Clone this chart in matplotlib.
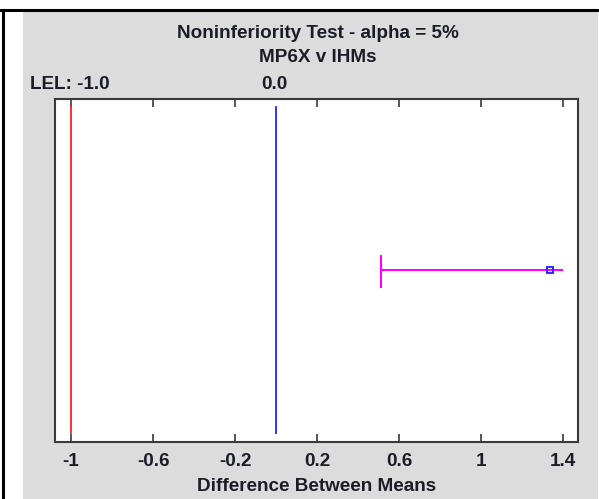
import matplotlib.pyplot as plt
from matplotlib.lines import Line2D
from matplotlib.patches import Rectangle

# values
lel = -1.0
ref = 0.0
ciLow = 0.51
estimate = 1.335
ciHigh = 1.395
xTicks = [-1, -0.6, -0.2, 0.2, 0.6, 1, 1.4]
xTickLabels = ['-1', '-0.6', '-0.2', '0.2', '0.6', '1', '1.4']

textColor = '#1c1c28'
fs = 13.6
plt.rcParams['font.family'] = ['Liberation Sans', 'DejaVu Sans']
plt.rcParams['font.weight'] = 'bold'

fig = plt.figure(figsize=(5.99, 4.99), dpi=100)
fig.set_facecolor('white')

# gray panel and black cell border
fig.patches.append(Rectangle((23 / 599, 0), 575 / 599, 1 - 11 / 499,
                             transform=fig.transFigure, facecolor='#dcdcdc',
                             edgecolor='none', zorder=-5))
fig.lines.append(Line2D([0, 598 / 599], [1 - 9.5 / 499] * 2, transform=fig.transFigure,
                        color='black', linewidth=2.2))
fig.lines.append(Line2D([3.2 / 599] * 2, [0, 1 - 9.5 / 499], transform=fig.transFigure,
                        color='black', linewidth=2.2))

ax = fig.add_axes([55 / 599, 1 - 441.7 / 499, 523 / 599, 343 / 499])
ax.set_zorder(2)
ax.set_facecolor('white')
ax.set_xlim(-1.078, 1.472)
ax.set_ylim(0, 1)

for side in ['bottom', 'top', 'left', 'right']:
    ax.spines[side].set_color('#3a3a3a')
    ax.spines[side].set_linewidth(1.5)

ax.set_xticks(xTicks)
ax.set_xticklabels(xTickLabels, fontsize=fs, fontweight='bold', color=textColor)
ax.tick_params(axis='x', direction='in', length=6, width=1.2, color='#3a3a3a',
               top=True, pad=8)
ax.set_yticks([])

# reference lines
ax.plot([lel, lel], [0.025, 0.975], color='#ff2020', linewidth=1.3)
ax.plot([ref, ref], [0.025, 0.975], color='#2020ff', linewidth=1.3)

# confidence interval
ax.plot([ciLow, ciHigh], [0.5, 0.5], color='#ff00ff', linewidth=1.5)
ax.plot([ciLow, ciLow], [0.452, 0.542], color='#ff00ff', linewidth=1.5)
ax.plot([estimate], [0.5], marker='s', markersize=5, markerfacecolor='none',
        markeredgecolor='#1a1aff', markeredgewidth=1.3, linestyle='none')

ax.set_xlabel('Difference Between Means', fontsize=fs, fontweight='bold',
              color=textColor, labelpad=6)

fig.text(318 / 599, 1 - 38 / 499, 'Noninferiority Test - alpha = 5%', ha='center',
         va='baseline', fontsize=fs, fontweight='bold', color=textColor)
fig.text(318 / 599, 1 - 61.5 / 499, 'MP6X v IHMs', ha='center', va='baseline',
         fontsize=fs, fontweight='bold', color=textColor)
fig.text(30 / 599, 1 - 89 / 499, 'LEL: %.1f' % lel, ha='left', va='baseline',
         fontsize=fs, fontweight='bold', color=textColor)
fig.text(274 / 599, 1 - 89 / 499, '%.1f' % ref, ha='center', va='baseline',
         fontsize=fs, fontweight='bold', color=textColor)

fig.savefig('out.png', dpi=100)
